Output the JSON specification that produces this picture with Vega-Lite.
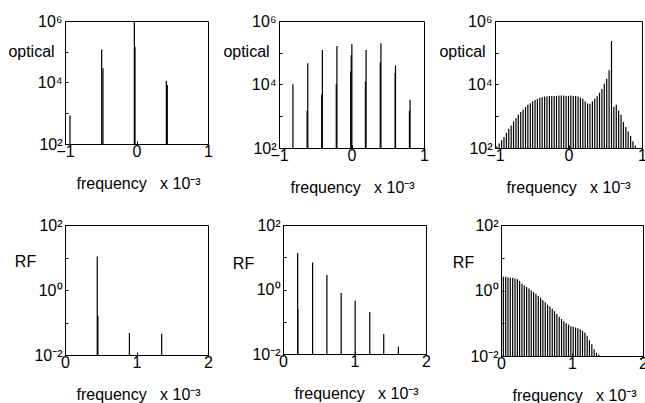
{
  "$schema": "https://vega.github.io/schema/vega-lite/v6.json",
  "padding": {"left": 7, "top": 12, "right": 2, "bottom": 4},
  "background": "white",
  "config": {
    "font": "Liberation Sans",
    "view": {"stroke": "black", "strokeWidth": 1},
    "axis": {
      "grid": false,
      "labelFont": "Liberation Sans",
      "titleFont": "Liberation Sans",
      "labelFontSize": 16,
      "titleFontSize": 16,
      "titleFontWeight": "normal",
      "labelColor": "black",
      "titleColor": "black",
      "domainColor": "black",
      "tickColor": "black",
      "tickSize": -3,
      "labelFlush": false,
      "labelOverlap": false
    },
    "axisX": {"labelPadding": 2, "format": "d", "titleAlign": "left", "titleBaseline": "alphabetic", "titleX": 11, "titleY": 44},
    "axisY": {"labelPadding": 6, "titleAngle": 0, "titleAlign": "center", "titleBaseline": "middle"}
  },
  "datasets": {
    "p1": [
      {"f": -0.93, "v": 850},
      {"f": -0.487, "v": 118000},
      {"f": -0.469, "v": 29000},
      {"f": -0.03, "v": 1200000},
      {"f": -0.021, "v": 145000},
      {"f": 0.417, "v": 11500},
      {"f": 0.431, "v": 8300}
    ],
    "p2": [
      {"f": -0.808, "v": 10200},
      {"f": -0.603, "v": 47000},
      {"f": -0.612, "v": 1480},
      {"f": -0.402, "v": 123000},
      {"f": -0.411, "v": 4800},
      {"f": -0.201, "v": 162000},
      {"f": -0.21, "v": 10200},
      {"f": 0.005, "v": 190000},
      {"f": -0.004, "v": 85000},
      {"f": -0.01, "v": 25700},
      {"f": 0.201, "v": 123000},
      {"f": 0.192, "v": 12300},
      {"f": 0.406, "v": 200000},
      {"f": 0.397, "v": 49000},
      {"f": 0.607, "v": 40000},
      {"f": 0.602, "v": 23000},
      {"f": 0.808, "v": 3300},
      {"f": 0.799, "v": 1480}
    ],
    "p3": [
      {"f": -0.975, "v": 112}, {"f": -0.943, "v": 138}, {"f": -0.91, "v": 174}, {"f": -0.878, "v": 224},
      {"f": -0.845, "v": 302}, {"f": -0.813, "v": 407}, {"f": -0.78, "v": 513}, {"f": -0.748, "v": 692},
      {"f": -0.715, "v": 871}, {"f": -0.683, "v": 1122}, {"f": -0.65, "v": 1349}, {"f": -0.618, "v": 1622},
      {"f": -0.585, "v": 1950}, {"f": -0.553, "v": 2291}, {"f": -0.52, "v": 2570}, {"f": -0.488, "v": 2951},
      {"f": -0.455, "v": 3236}, {"f": -0.423, "v": 3548}, {"f": -0.39, "v": 3802}, {"f": -0.358, "v": 3981},
      {"f": -0.325, "v": 4169}, {"f": -0.293, "v": 4266}, {"f": -0.26, "v": 4365}, {"f": -0.228, "v": 4365},
      {"f": -0.195, "v": 4365}, {"f": -0.163, "v": 4365}, {"f": -0.13, "v": 4467}, {"f": -0.098, "v": 4467},
      {"f": -0.065, "v": 4467}, {"f": -0.033, "v": 4365}, {"f": 0.0, "v": 4365}, {"f": 0.032, "v": 4467},
      {"f": 0.065, "v": 4365}, {"f": 0.097, "v": 4365}, {"f": 0.13, "v": 4169}, {"f": 0.162, "v": 3890},
      {"f": 0.195, "v": 3548}, {"f": 0.227, "v": 2951}, {"f": 0.26, "v": 2512}, {"f": 0.292, "v": 2455},
      {"f": 0.325, "v": 2951}, {"f": 0.357, "v": 3548}, {"f": 0.39, "v": 4266}, {"f": 0.422, "v": 5495},
      {"f": 0.455, "v": 7244}, {"f": 0.487, "v": 10471}, {"f": 0.52, "v": 15136}, {"f": 0.552, "v": 28184},
      {"f": 0.585, "v": 234423}, {"f": 0.617, "v": 1995}, {"f": 0.65, "v": 2291}, {"f": 0.682, "v": 1514},
      {"f": 0.715, "v": 1122}, {"f": 0.747, "v": 661}, {"f": 0.78, "v": 457}, {"f": 0.812, "v": 331},
      {"f": 0.845, "v": 240}, {"f": 0.877, "v": 162}, {"f": 0.91, "v": 120}
    ],
    "p4": [
      {"f": 0, "v": 41},
      {"f": 0.451, "v": 10.7},
      {"f": 0.46, "v": 0.16},
      {"f": 0.901, "v": 0.048},
      {"f": 1.352, "v": 0.045}
    ],
    "p5": [
      {"f": 0, "v": 26},
      {"f": 0.205, "v": 13.5},
      {"f": 0.207, "v": 0.25},
      {"f": 0.414, "v": 6.9},
      {"f": 0.614, "v": 2.8},
      {"f": 0.814, "v": 0.78},
      {"f": 1.009, "v": 0.45},
      {"f": 1.214, "v": 0.2},
      {"f": 1.409, "v": 0.042},
      {"f": 1.614, "v": 0.017}
    ],
    "p6": [
      {"f": 0, "v": 13.5},
      {"f": 0.033, "v": 2.63}, {"f": 0.066, "v": 2.63}, {"f": 0.098, "v": 2.51}, {"f": 0.131, "v": 2.45},
      {"f": 0.164, "v": 2.45}, {"f": 0.197, "v": 2.34}, {"f": 0.23, "v": 2.19}, {"f": 0.262, "v": 1.95},
      {"f": 0.295, "v": 1.62}, {"f": 0.328, "v": 1.41}, {"f": 0.361, "v": 1.29}, {"f": 0.394, "v": 1.15},
      {"f": 0.426, "v": 1.0}, {"f": 0.459, "v": 0.891}, {"f": 0.492, "v": 0.794}, {"f": 0.525, "v": 0.676},
      {"f": 0.558, "v": 0.603}, {"f": 0.59, "v": 0.501}, {"f": 0.623, "v": 0.437}, {"f": 0.656, "v": 0.372},
      {"f": 0.689, "v": 0.324}, {"f": 0.722, "v": 0.275}, {"f": 0.754, "v": 0.234}, {"f": 0.787, "v": 0.191},
      {"f": 0.82, "v": 0.158}, {"f": 0.853, "v": 0.135}, {"f": 0.886, "v": 0.115}, {"f": 0.918, "v": 0.1},
      {"f": 0.951, "v": 0.0912}, {"f": 0.984, "v": 0.0813}, {"f": 1.017, "v": 0.0776}, {"f": 1.05, "v": 0.0741},
      {"f": 1.082, "v": 0.0708}, {"f": 1.115, "v": 0.0661}, {"f": 1.148, "v": 0.0589}, {"f": 1.181, "v": 0.0525},
      {"f": 1.214, "v": 0.0417}, {"f": 1.246, "v": 0.0302}, {"f": 1.279, "v": 0.0229}, {"f": 1.312, "v": 0.0162},
      {"f": 1.345, "v": 0.0126}, {"f": 1.378, "v": 0.0112}
    ]
  },
  "vconcat": [
    {
      "hconcat": [
        {
          "width": 143, "height": 123,
          "data": {"name": "p1"},
          "mark": {"type": "rule", "color": "black", "strokeWidth": 1.2, "clip": true},
          "encoding": {
            "x": {"field": "f", "type": "quantitative", "scale": {"domain": [-1, 1], "nice": false}, "axis": {"values": [-1, 0, 1], "title": "frequency\u00a0\u00a0\u00a0x 10⁻³"}},
            "y": {"field": "v", "type": "quantitative", "scale": {"type": "log", "domain": [100, 1000000], "nice": false}, "axis": {"values": [100, 1000, 10000, 100000, 1000000], "labelExpr": "datum.value < 500 ? '10²' : (datum.value > 5000 && datum.value < 50000) ? '10⁴' : datum.value > 500000 ? '10⁶' : ''", "title": "optical", "titleX": -34, "titleY": 30}},
            "y2": {"datum": 100}
          }
        },
        {
          "width": 145, "height": 127,
          "data": {"name": "p2"},
          "mark": {"type": "rule", "color": "black", "strokeWidth": 1.2, "clip": true},
          "encoding": {
            "x": {"field": "f", "type": "quantitative", "scale": {"domain": [-1, 1], "nice": false}, "axis": {"values": [-1, 0, 1], "title": "frequency\u00a0\u00a0\u00a0x 10⁻³"}},
            "y": {"field": "v", "type": "quantitative", "scale": {"type": "log", "domain": [100, 1000000], "nice": false}, "axis": {"values": [100, 1000, 10000, 100000, 1000000], "labelExpr": "datum.value < 500 ? '10²' : (datum.value > 5000 && datum.value < 50000) ? '10⁴' : datum.value > 500000 ? '10⁶' : ''", "title": "optical", "titleX": -33, "titleY": 30}},
            "y2": {"datum": 100}
          }
        },
        {
          "width": 147, "height": 127,
          "data": {"name": "p3"},
          "mark": {"type": "rule", "color": "black", "strokeWidth": 1.2, "clip": true},
          "encoding": {
            "x": {"field": "f", "type": "quantitative", "scale": {"domain": [-1, 1], "nice": false}, "axis": {"values": [-1, 0, 1], "title": "frequency\u00a0\u00a0\u00a0x 10⁻³"}},
            "y": {"field": "v", "type": "quantitative", "scale": {"type": "log", "domain": [100, 1000000], "nice": false}, "axis": {"values": [100, 1000, 10000, 100000, 1000000], "labelExpr": "datum.value < 500 ? '10²' : (datum.value > 5000 && datum.value < 50000) ? '10⁴' : datum.value > 500000 ? '10⁶' : ''", "title": "optical", "titleX": -33, "titleY": 30}},
            "y2": {"datum": 100}
          }
        }
      ],
      "spacing": 71,
      "bounds": "flush"
    },
    {
      "hconcat": [
        {
          "width": 143, "height": 130,
          "data": {"name": "p4"},
          "mark": {"type": "rule", "color": "black", "strokeWidth": 1.2, "clip": true},
          "encoding": {
            "x": {"field": "f", "type": "quantitative", "scale": {"domain": [0, 2], "nice": false}, "axis": {"values": [0, 1, 2], "title": "frequency\u00a0\u00a0\u00a0x 10⁻³"}},
            "y": {"field": "v", "type": "quantitative", "scale": {"type": "log", "domain": [0.01, 100], "nice": false}, "axis": {"values": [0.01, 0.1, 1, 10, 100], "labelExpr": "datum.value < 0.05 ? '10⁻²' : (datum.value > 0.5 && datum.value < 5) ? '10⁰' : datum.value > 50 ? '10²' : ''", "title": "RF", "titleX": -40, "titleY": 36}},
            "y2": {"datum": 0.01}
          }
        },
        {
          "width": 143, "height": 129,
          "data": {"name": "p5"},
          "mark": {"type": "rule", "color": "black", "strokeWidth": 1.2, "clip": true},
          "encoding": {
            "x": {"field": "f", "type": "quantitative", "scale": {"domain": [0, 2], "nice": false}, "axis": {"values": [0, 1, 2], "title": "frequency\u00a0\u00a0\u00a0x 10⁻³"}},
            "y": {"field": "v", "type": "quantitative", "scale": {"type": "log", "domain": [0.01, 100], "nice": false}, "axis": {"values": [0.01, 0.1, 1, 10, 100], "labelExpr": "datum.value < 0.05 ? '10⁻²' : (datum.value > 0.5 && datum.value < 5) ? '10⁰' : datum.value > 50 ? '10²' : ''", "title": "RF", "titleX": -40, "titleY": 38}},
            "y2": {"datum": 0.01}
          }
        },
        {
          "width": 142, "height": 131,
          "data": {"name": "p6"},
          "mark": {"type": "rule", "color": "black", "strokeWidth": 1.2, "clip": true},
          "encoding": {
            "x": {"field": "f", "type": "quantitative", "scale": {"domain": [0, 2], "nice": false}, "axis": {"values": [0, 1, 2], "title": "frequency\u00a0\u00a0\u00a0x 10⁻³"}},
            "y": {"field": "v", "type": "quantitative", "scale": {"type": "log", "domain": [0.01, 100], "nice": false}, "axis": {"values": [0.01, 0.1, 1, 10, 100], "labelExpr": "datum.value < 0.05 ? '10⁻²' : (datum.value > 0.5 && datum.value < 5) ? '10⁰' : datum.value > 50 ? '10²' : ''", "title": "RF", "titleX": -38, "titleY": 37}},
            "y2": {"datum": 0.01}
          }
        }
      ],
      "spacing": 75,
      "bounds": "flush"
    }
  ],
  "spacing": 20
}
